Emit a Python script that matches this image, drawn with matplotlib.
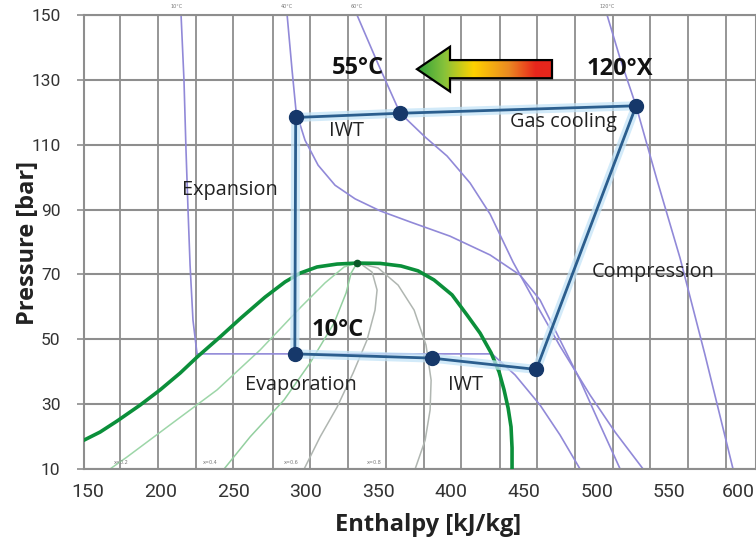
import numpy as np
import matplotlib
matplotlib.use("Agg")
import matplotlib.pyplot as plt
from matplotlib.patches import Polygon
from matplotlib.colors import LinearSegmentedColormap
from matplotlib.transforms import ScaledTranslation

# CO2 heat pump cycle (enthalpy kJ/kg, pressure bar)
cycle_h = [292.3, 292.9, 364.7, 527.2, 458.5, 386.5, 292.3]
cycle_p = [45.5, 118.4, 119.7, 122.0, 40.7, 44.2, 45.5]

# saturation dome
dome_h = [147.2, 158.3, 170.0, 185.8, 199.6, 213.4, 225.0, 240.8, 255.3, 271.8, 285.6, 295.9,
          307.6, 321.4, 335.1, 351.0, 365.4, 377.1, 388.1, 400.5, 410.8, 419.8, 427.4, 432.9,
          436.3, 439.1, 441.1, 441.8, 441.8]
dome_p = [18.9, 21.4, 24.8, 29.7, 34.4, 39.6, 44.5, 50.7, 56.6, 63.0, 67.7, 70.4,
          72.3, 73.2, 73.5, 73.4, 72.6, 71.1, 68.3, 63.7, 57.5, 51.9, 45.8, 39.9,
          34.4, 28.8, 23.0, 16.5, 10.0]
crit_h, crit_p = 335.1, 73.5

# isotherms
iso10_h = [214.0, 216.0, 217.4, 218.8, 220.2, 222.2, 225.0, 428.0, 443.9, 461.1, 474.8, 488.6]
iso10_p = [150.0, 130.0, 108.4, 89.8, 72.9, 55.9, 45.5, 45.5, 39.0, 29.7, 20.5, 10.0]
iso40_h = [287.0, 290.4, 293.2, 299.3, 308.3, 320.0, 333.8, 351.0, 371.6, 399.1, 426.7, 447.3,
           461.1, 474.8, 488.6, 502.4, 516.2]
iso40_p = [150.0, 133.0, 120.1, 111.4, 103.7, 97.5, 93.3, 89.6, 86.2, 81.8, 76.0, 69.8,
           62.1, 49.8, 37.4, 23.6, 10.0]
iso60_h = [335.1, 349.6, 364.7, 381.9, 397.1, 412.9, 426.7, 442.5, 457.6, 474.8, 495.5, 512.7, 532.0]
iso60_p = [150.0, 134.9, 119.8, 112.4, 106.5, 98.2, 88.6, 73.8, 61.5, 47.9, 32.8, 21.4, 10.0]
iso120_h = [507.2, 516.1, 527.2, 541.6, 557.4, 574.6, 593.9]
iso120_p = [150.0, 136.7, 121.9, 99.1, 75.1, 45.2, 10.0]
iso_labels = ["10°C", "40°C", "60°C", "120°C"]
iso_label_h = [211, 287, 335, 507]

# vapour quality lines
q02_h = [165.1, 176.8, 206.4, 238.8, 268.4, 296.6, 313.1, 326.2, 335.1]
q02_p = [10.0, 13.7, 23.6, 34.4, 46.7, 60.0, 67.4, 72.3, 73.5]
q04_h = [243.6, 261.5, 284.9, 302.8, 319.3, 327.6, 331.0, 335.1]
q04_p = [10.0, 19.9, 31.3, 42.7, 55.0, 64.3, 70.4, 73.5]
q06_h = [298.7, 309.7, 321.4, 332.4, 342.0, 347.5, 348.9, 345.5, 337.9]
q06_p = [10.0, 19.9, 29.1, 39.6, 49.8, 59.0, 65.2, 70.7, 73.2]
q08_h = [375.1, 382.0, 385.4, 386.1, 382.6, 374.4, 363.4, 349.6, 335.1]
q08_p = [10.0, 18.9, 28.2, 37.4, 48.2, 59.0, 66.7, 72.0, 73.5]
q_labels = ["x=0.2", "x=0.4", "x=0.6", "x=0.8"]
q_label_h = [173, 234, 290, 347]

x_ticks = [150, 200, 250, 300, 350, 400, 450, 500, 550, 600]
y_ticks = [10, 30, 50, 70, 90, 110, 130, 150]
grid_h = [172, 198, 224.5, 250, 277, 303, 329, 355, 381, 407, 433.5, 459, 485, 511, 537, 563, 589]

FONT = ['Open Sans', 'DejaVu Sans']
NARROW = ['Liberation Sans Narrow', 'Roboto', 'DejaVu Sans']

fig = plt.figure(figsize=(7.56, 5.4), dpi=100)
ax = fig.add_axes([84 / 756, 71 / 540, 672 / 756, 454 / 540])
ax.set_xlim(147.2, 609.7)
ax.set_ylim(10, 150)

# grid
for g in grid_h:
    ax.axvline(g, color='#8e8e8e', lw=1.3, zorder=0)
for p in y_ticks:
    ax.axhline(p, color='#8e8e8e', lw=1.5, zorder=0)

# quality lines
ax.plot(q02_h, q02_p, color='#9dd6a8', lw=1.1, zorder=1)
ax.plot(q04_h, q04_p, color='#93cf9f', lw=1.1, zorder=1)
ax.plot(q06_h, q06_p, color='#b0b6b1', lw=1.1, zorder=1)
ax.plot(q08_h, q08_p, color='#b0b6b1', lw=1.1, zorder=1)
for lab, h in zip(q_labels, q_label_h):
    ax.text(h, 11.3, lab, fontsize=3.5, color='#777777', ha='center', va='bottom')

# isotherms
iso_col = '#9189d8'
for hh, pp in [(iso10_h, iso10_p), (iso40_h, iso40_p), (iso60_h, iso60_p), (iso120_h, iso120_p)]:
    ax.plot(hh, pp, color=iso_col, lw=1.2, zorder=2)
for lab, h in zip(iso_labels, iso_label_h):
    ax.text(h, 152, lab, fontsize=3.5, color='#777777', ha='center', va='bottom', clip_on=False)

# dome
ax.plot(dome_h, dome_p, color='#0b8f3a', lw=2.6, zorder=3, solid_joinstyle='round')
ax.plot([crit_h], [crit_p], 'o', color='#0a5a28', ms=4.5, zorder=4)

# cycle with glow
ax.plot(cycle_h, cycle_p, color='#c4e4f7', lw=6.5, alpha=0.75, zorder=4, solid_joinstyle='round')
ax.plot(cycle_h, cycle_p, color='#2b5e8e', lw=2.0, zorder=5)
ax.plot(cycle_h[:-1], cycle_p[:-1], 'o', color='#16386a', ms=10, zorder=6)

# gradient arrow (green <- red)
tip_h, base_h, tail_h = 376.4, 399.1, 469.3
arr_p, body_half, head_half = 133.3, 2.8, 6.9
verts = [(tip_h, arr_p), (base_h, arr_p + head_half), (base_h, arr_p + body_half),
         (tail_h, arr_p + body_half), (tail_h, arr_p - body_half), (base_h, arr_p - body_half),
         (base_h, arr_p - head_half)]
cmap = LinearSegmentedColormap.from_list('g2r', [(0.0, '#2ea03a'), (0.2, '#86c23a'),
                                                 (0.42, '#ffd200'), (0.68, '#eb8a22'),
                                                 (0.88, '#e8261c'), (1.0, '#e8261c')])
grad = np.linspace(0, 1, 256).reshape(1, -1)
im = ax.imshow(grad, cmap=cmap, extent=[tip_h, tail_h, arr_p - head_half, arr_p + head_half],
               aspect='auto', zorder=7)
poly = Polygon(verts, closed=True, facecolor='none', edgecolor='black', lw=1.6, zorder=8)
ax.add_patch(poly)
im.set_clip_path(poly)

# labels
txt = dict(fontsize=14.3, color='#222222', family=FONT, ha='center', va='center', zorder=9)
ax.text(247.7, 96.0, 'Expansion', **txt)
ax.text(327.6, 114.2, 'IWT', **txt)
ax.text(476.9, 117.0, 'Gas cooling', **txt)
ax.text(538.9, 70.7, 'Compression', **txt)
ax.text(296.6, 35.9, 'Evaporation', **txt)
ax.text(409.5, 35.9, 'IWT', **txt)
bold = dict(fontsize=17, color='#111111', family=FONT, weight='bold', ha='center', va='center', zorder=9)
ax.text(322.1, 52.9, '10°C', **bold)
ax.text(335.8, 133.7, '55°C', **bold)
ax.text(516.1, 133.3, '120°X', **bold)

# axes styling
ax.set_xticks(x_ticks)
ax.set_yticks(y_ticks)
ax.set_xticklabels([str(v) for v in x_ticks], family=NARROW, fontsize=14, color='#333333')
ax.set_yticklabels([str(v) for v in y_ticks], family=NARROW, fontsize=12.5, color='#333333')
ax.tick_params(axis='x', length=0, pad=10)
ax.tick_params(axis='y', length=5, width=1.2, color='#8e8e8e', pad=12)
last = ax.get_xticklabels()[-1]
last.set_ha('right')
last.set_transform(last.get_transform() + ScaledTranslation(13 / 100, 0, fig.dpi_scale_trans))
for s in ax.spines.values():
    s.set_color('#8e8e8e')
    s.set_linewidth(1.5)

fig.text(428 / 756, 1 - 525 / 540, 'Enthalpy [kJ/kg]', family=FONT, weight='bold',
         fontsize=17, color='#222222', ha='center', va='center')
fig.text(28 / 756, 1 - 243 / 540, 'Pressure [bar]', family=FONT, weight='bold',
         fontsize=17, color='#222222', ha='center', va='center', rotation=90)

fig.savefig('out.png', dpi=100)
